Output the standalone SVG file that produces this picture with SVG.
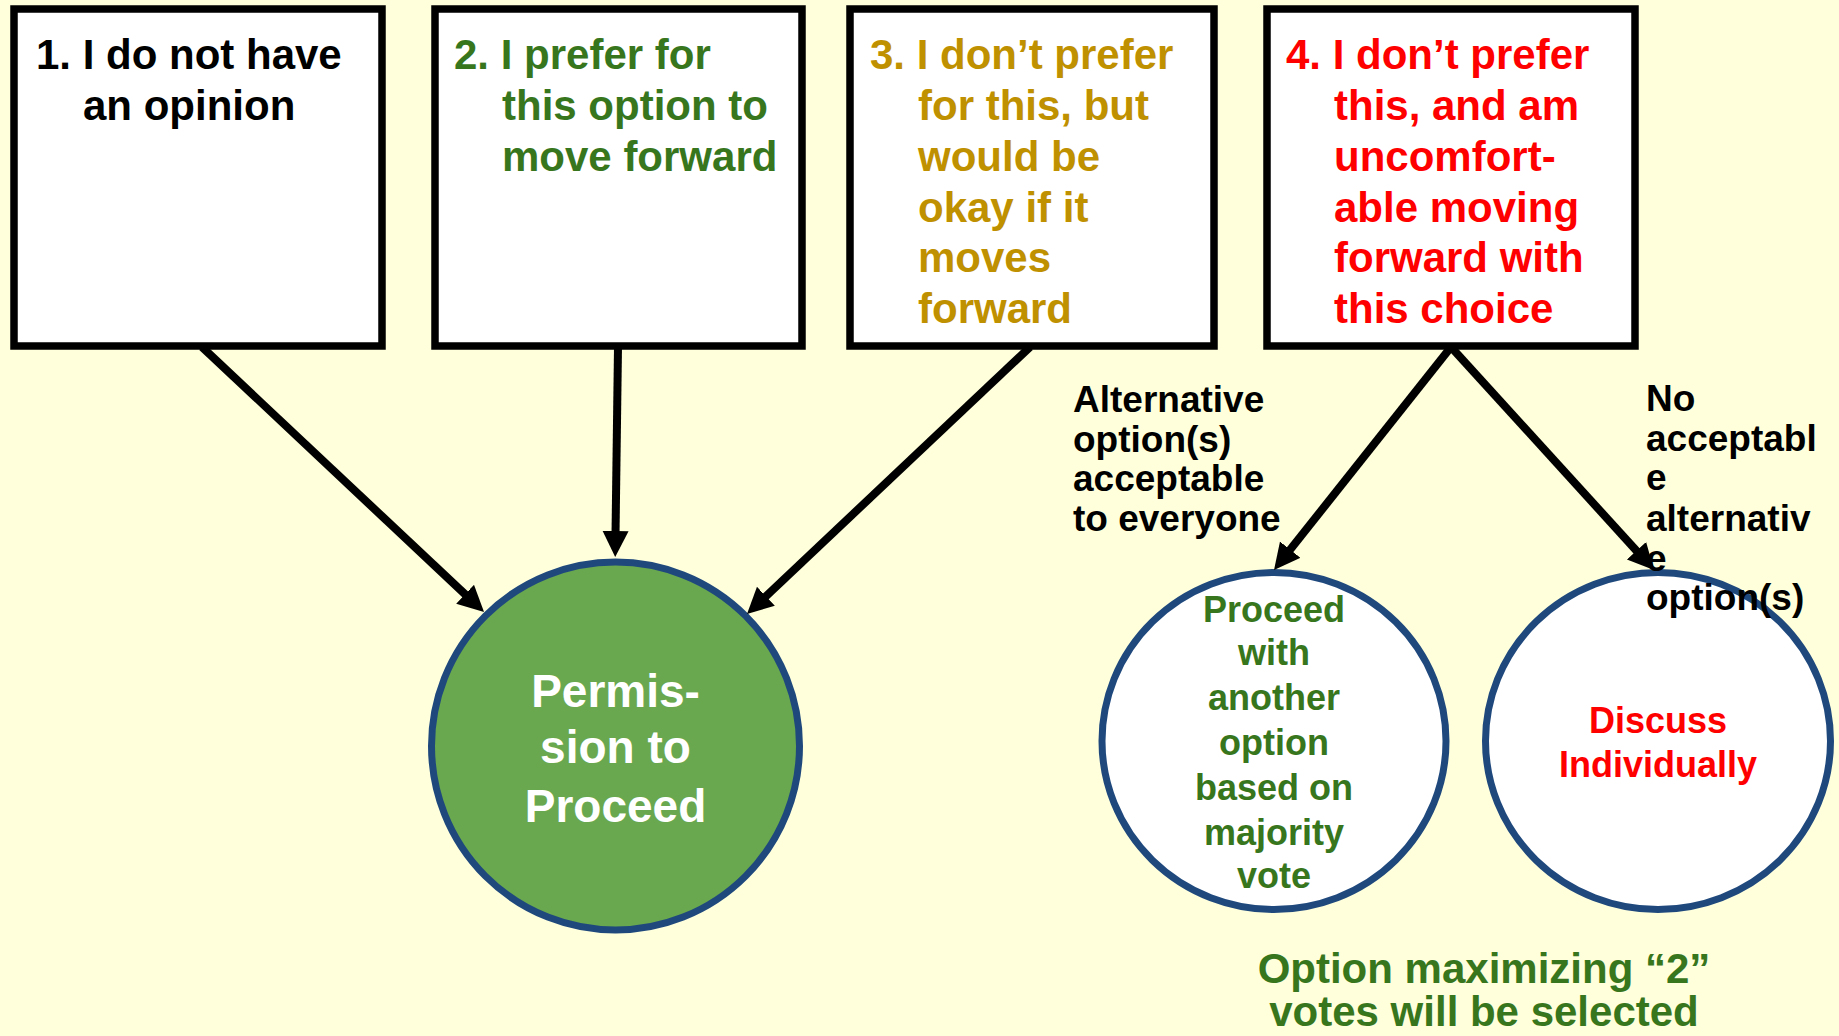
<svg xmlns="http://www.w3.org/2000/svg" width="1839" height="1036" viewBox="0 0 1839 1036">
<style>
  text { font-family: "Liberation Sans", Arial, sans-serif; font-weight: bold; }
  .box { fill: #ffffff; stroke: #000000; stroke-width: 7.5; }
  .t42 { font-size: 42px; }
  .black { fill: #000000; }
  .green { fill: #38761d; }
  .gold { fill: #bf9000; }
  .red { fill: #ff0000; }
  .white { fill: #ffffff; }
  .circ { stroke: #1f497d; stroke-width: 7; }
  .conn { stroke: #000000; stroke-width: 8; fill: none; marker-end: url(#arrow); }
  .lbl { font-size: 37px; fill: #000000; }
</style>
<defs>
  <marker id="arrow" markerUnits="userSpaceOnUse" markerWidth="30" markerHeight="28" refX="4" refY="13" orient="auto">
    <path d="M0,0 L26,13 L0,26 z" fill="#000000"/>
  </marker>
</defs>
<rect x="0" y="0" width="1839" height="1036" fill="#ffffdc"/>

<g id="box1">
  <rect class="box" x="14" y="9" width="368" height="337"/>
  <text class="t42 black"><tspan x="36" y="69">1. I do not have</tspan><tspan x="83" y="120">an opinion</tspan></text>
</g>
<g id="box2">
  <rect class="box" x="435" y="9" width="367" height="337"/>
  <text class="t42 green"><tspan x="454" y="69">2. I prefer for</tspan><tspan x="502" y="120">this option to</tspan><tspan x="502" y="171">move forward</tspan></text>
</g>
<g id="box3">
  <rect class="box" x="850" y="9" width="364" height="337"/>
  <text class="t42 gold"><tspan x="870" y="69">3. I don’t prefer</tspan><tspan x="918" y="120">for this, but</tspan><tspan x="918" y="171">would be</tspan><tspan x="918" y="222">okay if it</tspan><tspan x="918" y="272">moves</tspan><tspan x="918" y="323">forward</tspan></text>
</g>
<g id="box4">
  <rect class="box" x="1267" y="9" width="368" height="337"/>
  <text class="t42 red"><tspan x="1286" y="69">4. I don’t prefer</tspan><tspan x="1334" y="120">this, and am</tspan><tspan x="1334" y="171">uncomfort-</tspan><tspan x="1334" y="222">able moving</tspan><tspan x="1334" y="272">forward with</tspan><tspan x="1334" y="323">this choice</tspan></text>
</g>

<g id="permission">
  <circle class="circ" cx="615.5" cy="746" r="184" fill="#6aa84f"/>
  <text class="white" font-size="46" text-anchor="middle"><tspan x="615.5" y="707">Permis-</tspan><tspan x="615.5" y="763">sion to</tspan><tspan x="615.5" y="822">Proceed</tspan></text>
</g>
<g id="proceed">
  <ellipse class="circ" cx="1274" cy="741" rx="172" ry="168.5" fill="#ffffff"/>
  <text class="green" font-size="36" text-anchor="middle"><tspan x="1274" y="622">Proceed</tspan><tspan x="1274" y="665">with</tspan><tspan x="1274" y="710">another</tspan><tspan x="1274" y="755">option</tspan><tspan x="1274" y="800">based on</tspan><tspan x="1274" y="845">majority</tspan><tspan x="1274" y="888">vote</tspan></text>
</g>
<g id="discuss">
  <ellipse class="circ" cx="1658" cy="741" rx="172.5" ry="168.5" fill="#ffffff"/>
  <text class="red" font-size="36" text-anchor="middle"><tspan x="1658" y="733">Discuss</tspan><tspan x="1658" y="777">Individually</tspan></text>
</g>

<g id="connectors">
  <line class="conn" x1="202" y1="347" x2="468" y2="597"/>
  <line class="conn" x1="618" y1="347" x2="615.5" y2="535"/>
  <line class="conn" x1="1030" y1="347" x2="763" y2="599"/>
  <line class="conn" x1="1451" y1="347" x2="1287.7" y2="552.8"/>
  <line class="conn" x1="1451" y1="347" x2="1639.2" y2="553.7"/>
</g>

<g id="labels">
  <text class="lbl"><tspan x="1073" y="412">Alternative</tspan><tspan x="1073" y="452">option(s)</tspan><tspan x="1073" y="491">acceptable</tspan><tspan x="1073" y="531">to everyone</tspan></text>
  <text class="lbl"><tspan x="1646" y="411">No</tspan><tspan x="1646" y="451">acceptabl</tspan><tspan x="1646" y="490">e</tspan><tspan x="1646" y="531">alternativ</tspan><tspan x="1646" y="571">e</tspan><tspan x="1646" y="610">option(s)</tspan></text>
  <text class="green" font-size="42" text-anchor="middle"><tspan x="1484" y="983">Option maximizing “2”</tspan><tspan x="1484" y="1026">votes will be selected</tspan></text>
</g>
</svg>
